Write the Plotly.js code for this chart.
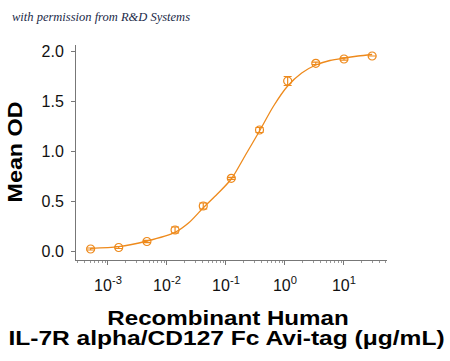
<!DOCTYPE html>
<html>
<head>
<meta charset="utf-8">
<script src="https://cdn.plot.ly/plotly-3.0.1.min.js"></script>
<style>html,body{margin:0;padding:0;background:#fff;}#chart{width:450px;height:361px;}</style>
</head>
<body>
<div id="chart"></div>
<script>
// Concentrations (µg/mL) and measured Mean OD
var conc = [0.000508, 0.00152, 0.00457, 0.0137, 0.0412, 0.123, 0.370, 1.11, 3.33, 10, 30];
var meanOD = [0.02, 0.035, 0.095, 0.21, 0.45, 0.727, 1.21, 1.70, 1.877, 1.92, 1.95];
var odErr = [0.01, 0.01, 0.012, 0.03, 0.03, 0.01, 0.025, 0.045, 0.012, 0.012, 0.0];

// Fitted curve
var curveX = [0.000508, 0.00152, 0.00457, 0.0137, 0.0237, 0.0412, 0.0713, 0.123, 0.214, 0.370, 0.641, 1.11, 1.92, 3.33, 5.77, 10, 17.3, 30];
var curveY = [0.027, 0.043, 0.10, 0.187, 0.285, 0.433, 0.57, 0.72, 0.96, 1.20, 1.45, 1.65, 1.78, 1.86, 1.905, 1.93, 1.95, 1.965];

var xTickVals = [0.001, 0.01, 0.1, 1, 10];
var xTickText = ['10<sup>-3</sup>', '10<sup>-2</sup>', '10<sup>-1</sup>', '10<sup>0</sup>', '10<sup>1</sup>'];
var yTickVals = [0, 0.5, 1.0, 1.5, 2.0];
var yTickText = ['0.0', '0.5', '1.0', '1.5', '2.0'];

var xTitleLines = ['Recombinant Human', 'IL-7R alpha/CD127 Fc Avi-tag (\u03bcg/mL)'];
var yTitle = 'Mean OD';
var credit = 'with permission from R&amp;D Systems';

var orange = '#EE8A1C';
var L = 76, T = 45, PW = 311, PH = 215;
function px(x) { return (x - L) / PW; }
function py(y) { return 1 - (y - T) / PH; }

var traces = [
  {
    x: curveX, y: curveY, type: 'scatter', mode: 'lines',
    line: {color: orange, width: 1.3, shape: 'spline', smoothing: 0.8},
    hoverinfo: 'skip', showlegend: false
  },
  {
    x: conc, y: meanOD, type: 'scatter', mode: 'markers',
    marker: {symbol: 'circle-open', size: 8, color: orange, line: {width: 1.2, color: orange}},
    error_y: {type: 'data', array: odErr, visible: true, color: orange, thickness: 1.2, width: 4},
    showlegend: false
  }
];

var titleFont = {family: 'Arial, Liberation Sans, sans-serif', size: 21, color: '#000'};

var layout = {
  width: 450, height: 361,
  margin: {l: L, r: 450 - L - PW, t: T, b: 361 - T - PH},
  paper_bgcolor: '#fff', plot_bgcolor: '#fff',
  font: {family: 'Arial, Liberation Sans, sans-serif', color: '#111'},
  xaxis: {
    type: 'log',
    range: [-3.542, 1.729],
    tickvals: xTickVals,
    ticktext: xTickText,
    ticks: 'outside', ticklen: 4, tickwidth: 1, tickcolor: '#777',
    ticklabelstandoff: 7,
    minor: {ticks: 'outside', ticklen: 2, tickwidth: 1, tickcolor: '#999', dtick: 'D1'},
    showline: true, linecolor: '#777', linewidth: 1,
    showgrid: false, zeroline: false,
    tickfont: {size: 16, color: '#111'}
  },
  yaxis: {
    range: [-0.09, 2.06],
    tickvals: yTickVals,
    ticktext: yTickText,
    ticks: 'outside', ticklen: 4, tickwidth: 1, tickcolor: '#777',
    ticklabelstandoff: 4,
    showline: true, linecolor: '#777', linewidth: 1,
    showgrid: false, zeroline: false,
    tickfont: {size: 16, color: '#111'}
  },
  annotations: [
    {
      text: credit,
      xref: 'paper', yref: 'paper', x: px(10), y: py(17),
      xanchor: 'left', yanchor: 'middle', showarrow: false,
      font: {family: 'Liberation Serif, DejaVu Serif, serif', size: 12.5, color: '#1b2a48', style: 'italic'}
    },
    {
      text: '<b>' + xTitleLines[0] + '</b>',
      xref: 'paper', yref: 'paper', x: px(227.7), y: py(317.5),
      xanchor: 'center', yanchor: 'middle', showarrow: false, font: titleFont
    },
    {
      text: '<b>' + xTitleLines[1] + '</b>',
      xref: 'paper', yref: 'paper', x: px(226.7), y: py(337.5),
      xanchor: 'center', yanchor: 'middle', showarrow: false, font: titleFont
    },
    {
      text: '<b>' + yTitle + '</b>',
      xref: 'paper', yref: 'paper', x: px(14.5), y: py(152),
      xanchor: 'center', yanchor: 'middle', textangle: -90, showarrow: false, font: titleFont
    }
  ]
};

Plotly.newPlot('chart', traces, layout, {displayModeBar: false, staticPlot: true}).then(function (gd) {
  var texts = gd.querySelectorAll('.annotation-text');
  texts.forEach(function (t) {
    var s = t.textContent, k = 0;
    if (s === xTitleLines[0]) k = 1.15;
    else if (s === xTitleLines[1]) k = 1.17;
    else if (s === yTitle) k = 1.11;
    if (k) {
      t.style.transformBox = 'fill-box';
      t.style.transformOrigin = 'center';
      t.style.transform = 'scaleX(' + k + ')';
    }
  });
});
</script>
</body>
</html>
